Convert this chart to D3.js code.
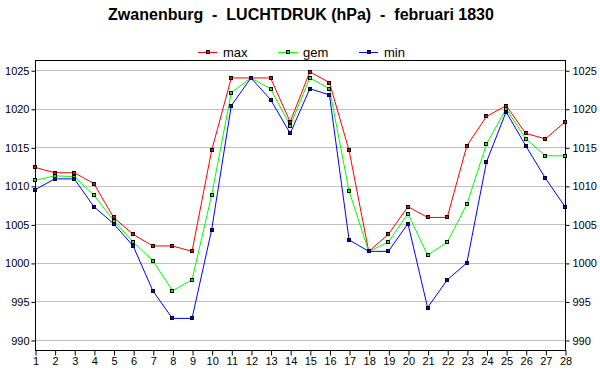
<!DOCTYPE html>
<html>
<head>
<meta charset="utf-8">
<script src="https://cdn.jsdelivr.net/npm/d3@7"></script>
<style>
  body { margin: 0; background: #fff; }
  svg { display: block; font-family: "Liberation Sans", Arial, sans-serif; }
</style>
</head>
<body>
<div id="chart"></div>
<script>
var days = d3.range(1, 29);
var maxVals = [1012.4, 1011.7, 1011.7, 1010.3, 1005.9, 1003.7, 1002.2, 1002.2, 1001.5, 1014.6,
               1024.0, 1024.0, 1024.0, 1018.3, 1024.8, 1023.4, 1014.6, 1001.5, 1003.7, 1007.3,
               1005.9, 1005.9, 1015.2, 1019.0, 1020.4, 1016.8, 1016.1, 1018.3];
var gemVals = [1010.7, 1011.3, 1011.2, 1008.8, 1005.5, 1002.7, 1000.3, 996.4, 997.8, 1008.8,
               1022.1, 1024.0, 1022.6, 1017.8, 1024.0, 1022.6, 1009.3, 1001.5, 1002.7, 1006.4,
               1001.0, 1002.7, 1007.6, 1015.4, 1020.0, 1016.1, 1013.9, 1013.9];
var minVals = [1009.5, 1010.9, 1010.9, 1007.3, 1005.1, 1002.2, 996.4, 992.8, 992.8, 1004.3,
               1020.4, 1024.0, 1021.2, 1016.8, 1022.6, 1021.8, 1003.0, 1001.5, 1001.5, 1005.1,
               994.2, 997.8, 1000.0, 1013.1, 1019.6, 1015.2, 1011.0, 1007.3];
var yTicks = [990, 995, 1000, 1005, 1010, 1015, 1020, 1025];

var series = [
    { name: 'max', color: '#ff0000', values: maxVals },
    { name: 'gem', color: '#00ff00', values: gemVals },
    { name: 'min', color: '#0000ff', values: minVals }
];

var width = 600, height = 390;
var plotLeft = 35, plotRight = 565, plotTop = 60, plotBottom = 350;

var svg = d3.select('#chart').append('svg').attr('width', width).attr('height', height);

var x = d3.scaleLinear().domain([1, 28]).range([plotLeft, plotRight]);
var y = d3.scaleLinear().domain([988.7, 1026.33]).range([plotBottom, plotTop]);

// title
svg.append('text')
    .attr('x', 301).attr('y', 20)
    .attr('text-anchor', 'middle')
    .style('font-size', '16px').style('font-weight', 'bold')
    .style('white-space', 'pre')
    .text('Zwanenburg  -  LUCHTDRUK (hPa)  -  februari 1830');

// grid
svg.append('g').selectAll('line').data(yTicks).enter().append('line')
    .attr('x1', plotLeft).attr('x2', plotRight)
    .attr('y1', function (d) { return Math.round(y(d)) + 0.5; })
    .attr('y2', function (d) { return Math.round(y(d)) + 0.5; })
    .attr('stroke', '#c0c0c0');

// axes
var fmt = d3.format('d');
var yLeft = svg.append('g').attr('transform', 'translate(' + (plotLeft + 0.5) + ',0.5)')
    .call(d3.axisLeft(y).tickValues(yTicks).tickFormat(fmt).tickSize(4).tickPadding(2).tickSizeOuter(0));
var yRight = svg.append('g').attr('transform', 'translate(' + (plotRight + 0.5) + ',0.5)')
    .call(d3.axisRight(y).tickValues(yTicks).tickFormat(fmt).tickSize(4).tickPadding(3).tickSizeOuter(0));
var xAxis = svg.append('g').attr('transform', 'translate(0.5,' + (plotBottom + 0.5) + ')')
    .call(d3.axisBottom(x).tickValues(days).tickFormat(fmt).tickSize(5).tickPadding(2).tickSizeOuter(0));

[yLeft, yRight, xAxis].forEach(function (g) {
    g.selectAll('text').style('font-size', '11px').style('font-family', '"Liberation Sans", Arial, sans-serif').attr('fill', '#000');
    g.selectAll('line').attr('stroke', '#000');
    g.select('.domain').remove();
});

// frame
svg.append('rect')
    .attr('x', plotLeft + 0.5).attr('y', plotTop + 0.5)
    .attr('width', plotRight - plotLeft).attr('height', plotBottom - plotTop)
    .attr('fill', 'none').attr('stroke', '#000');

// lines
var line = d3.line()
    .x(function (d, i) { return x(days[i]); })
    .y(function (d) { return y(d); });

series.forEach(function (s) {
    svg.append('path')
        .datum(s.values)
        .attr('d', line)
        .attr('fill', 'none')
        .attr('stroke', s.color)
        .attr('stroke-width', 1);
});

series.forEach(function (s) {
    svg.append('g').selectAll('rect').data(s.values).enter().append('rect')
        .attr('x', function (d, i) { return Math.round(x(days[i])) - 1.5; })
        .attr('y', function (d) { return Math.round(y(d)) - 1.5; })
        .attr('width', 3).attr('height', 3)
        .attr('fill', s.color)
        .attr('stroke', '#000')
        .attr('shape-rendering', 'crispEdges');
});

// legend
var legendX = [198, 278, 359];
var legend = svg.append('g');
series.forEach(function (s, i) {
    var lx = legendX[i];
    legend.append('line')
        .attr('x1', lx).attr('x2', lx + 19)
        .attr('y1', 52.5).attr('y2', 52.5)
        .attr('stroke', s.color);
    legend.append('rect')
        .attr('x', lx + 8.5).attr('y', 50.5)
        .attr('width', 3).attr('height', 3)
        .attr('fill', s.color).attr('stroke', '#000')
        .attr('shape-rendering', 'crispEdges');
    legend.append('text')
        .attr('x', lx + 25).attr('y', 57)
        .style('font-size', '13px')
        .text(s.name);
});
</script>
</body>
</html>
